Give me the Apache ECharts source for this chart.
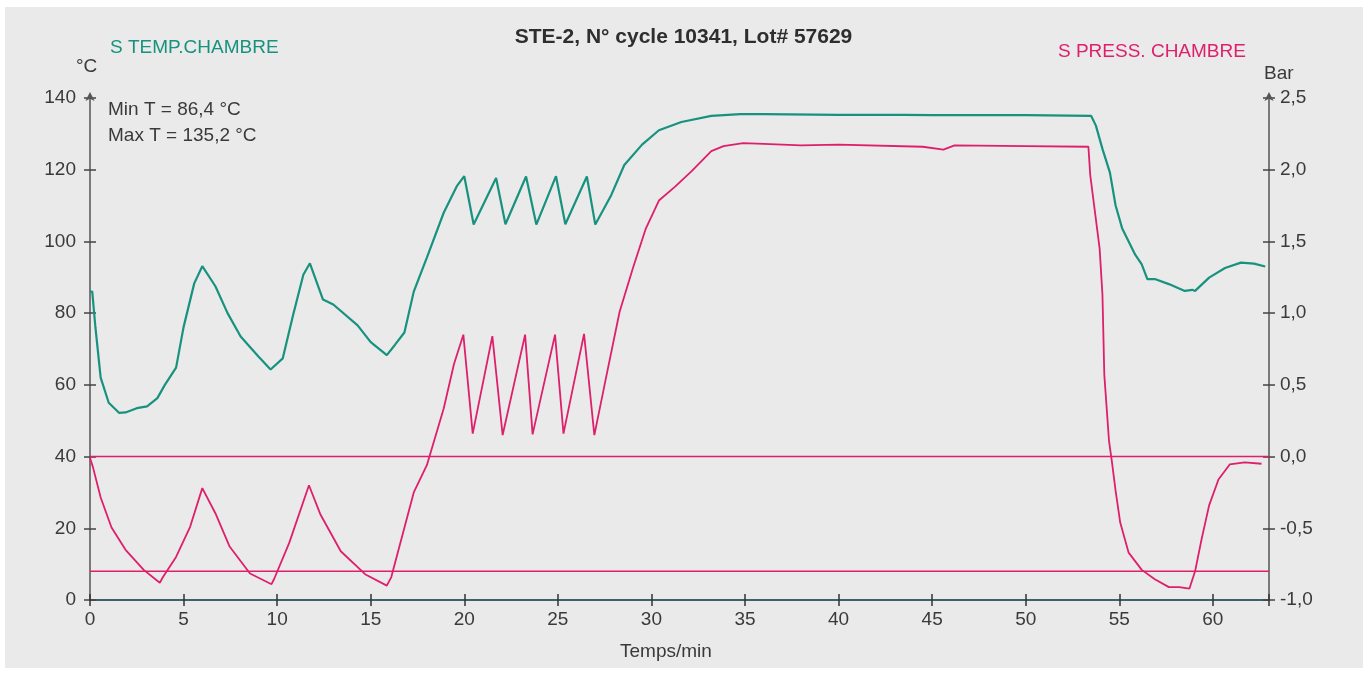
<!DOCTYPE html>
<html>
<head>
<meta charset="utf-8">
<script src="https://cdn.jsdelivr.net/npm/echarts@6/dist/echarts.min.js"></script>
<style>
html,body{margin:0;padding:0;background:#fff;}
#c{width:1367px;height:675px;}
</style>
</head>
<body>
<div id="c"></div>
<script>
// ---- data ----
var titleText = 'STE-2, N° cycle 10341, Lot# 57629';
var tempName = 'S TEMP.CHAMBRE';
var pressName = 'S PRESS. CHAMBRE';
var infoLines = ['Min T = 86,4 °C', 'Max T = 135,2 °C'];

var tempMinutes = [0,0.12,0.29,0.57,1.0,1.55,1.9,2.5,3.05,3.6,4.0,4.6,5.0,5.57,6.0,6.7,7.35,8.05,9.0,9.65,10.3,10.85,11.4,11.75,12.45,13.0,14.3,15.0,15.86,16.3,16.8,17.3,18.0,18.9,19.6,20.0,20.5,21.7,22.2,23.3,23.85,24.9,25.4,26.55,27.0,27.85,28.55,29.5,30.4,31.6,33.2,34.75,36,40,43.5,45,50,53.5,53.75,54.1,54.5,54.8,55.15,55.85,56.2,56.5,56.9,57.65,58.5,58.9,59.05,59.8,60.65,61.5,62.2,62.8];
var tempValues  = [86,86,76,62,55,52.2,52.3,53.5,54,56.3,60,64.8,76.1,88.3,93.1,87.5,80,73.5,67.9,64.3,67.4,79.4,90.7,93.9,83.8,82.4,76.6,71.9,68.3,71.2,74.6,86,95.5,108,115.4,118.2,104.7,117.7,104.8,118.1,104.7,118.2,104.8,118.1,104.7,112.9,121.3,127,131,133.3,135,135.5,135.5,135.3,135.3,135.2,135.2,135,132.3,125.8,119.2,110.1,103.7,96.3,93.6,89.5,89.5,88.1,86.2,86.5,86.2,89.9,92.6,94.1,93.8,93.0];

var pressMinutes = [0,0.15,0.57,1.15,1.9,2.87,3.73,3.9,4.6,5.35,6.0,6.7,7.45,8.55,9.7,9.85,10.65,11.7,12.3,13.4,14.7,15.86,16.1,17.3,18.0,18.9,19.45,19.95,20.45,21.5,22.05,23.25,23.65,24.85,25.3,26.4,26.95,27.55,28.3,29.0,29.7,30.4,31.25,32.15,33.2,33.85,34.9,36.0,38,40,44.5,45.6,46.2,50,53.35,53.45,53.95,54.1,54.2,54.45,54.6,54.8,55.05,55.5,56.2,56.9,57.65,58.2,58.75,59.05,59.4,59.8,60.3,60.9,61.7,62.6];
var pressValues  = [-0.01,-0.07,-0.285,-0.495,-0.65,-0.79,-0.88,-0.84,-0.70,-0.49,-0.22,-0.395,-0.625,-0.815,-0.89,-0.85,-0.6,-0.2,-0.40,-0.66,-0.82,-0.90,-0.84,-0.25,-0.06,0.335,0.645,0.85,0.16,0.84,0.15,0.85,0.155,0.85,0.16,0.855,0.15,0.535,1.01,1.31,1.59,1.785,1.88,1.99,2.13,2.165,2.185,2.18,2.17,2.175,2.16,2.14,2.17,2.165,2.16,1.96,1.45,1.13,0.57,0.11,-0.03,-0.235,-0.46,-0.67,-0.79,-0.855,-0.91,-0.91,-0.92,-0.80,-0.575,-0.34,-0.16,-0.055,-0.04,-0.05];

var pressLimits = [0.0, -0.8];
var xRange = [0, 63];
var tempRange = [0, 140];
var pressRange = [-1.0, 2.5];

// ---- build ----
var TEAL = '#17927f', MAGENTA = '#de1f6b', INK = '#3a3a3a';
var FONT = "'Liberation Sans', Arial, sans-serif";
function pairs(xs, ys){ return xs.map(function(x,i){ return [x, ys[i]]; }); }

var limitSeries = pressLimits.map(function(v){
  return {type:'line', yAxisIndex:1, data:[[xRange[0], v],[xRange[1], v]], symbol:'none',
          lineStyle:{color:MAGENTA, width:1.6}, silent:true, animation:false, z:3};
});

var chart = echarts.init(document.getElementById('c'));
chart.setOption({
  backgroundColor:'#ffffff',
  animation:false,
  textStyle:{fontFamily:FONT},
  grid:{left:90, right:98, top:98, bottom:75},
  graphic:[
    {type:'rect', shape:{x:5,y:7,width:1358,height:661}, style:{fill:'#eaeaea'}, z:-10, silent:true},
    {type:'text', left:'center', top:27, style:{text:titleText, fill:'#2e2e2e', font:'bold 21px '+FONT}},
    {type:'text', left:110, top:38, style:{text:tempName, fill:TEAL, font:'19px '+FONT}},
    {type:'text', left:1058, top:42, style:{text:pressName, fill:MAGENTA, font:'19px '+FONT}},
    {type:'text', left:76, top:57, style:{text:'°C', fill:INK, font:'19px '+FONT}},
    {type:'text', left:1264, top:64, style:{text:'Bar', fill:INK, font:'19px '+FONT}},
    {type:'text', left:108, top:100, style:{text:infoLines[0], fill:INK, font:'19px '+FONT}},
    {type:'text', left:108, top:126, style:{text:infoLines[1], fill:INK, font:'19px '+FONT}},
    {type:'text', left:620, top:642, style:{text:'Temps/min', fill:INK, font:'19px '+FONT}}
  ],
  xAxis:[
    {type:'value', min:xRange[0], max:xRange[1], interval:5,
     axisLine:{show:true, onZero:false, lineStyle:{color:'#3d6168', width:2}},
     axisTick:{show:true, length:6, lineStyle:{color:'#333', width:1.5}},
     axisLabel:{color:INK, fontSize:19, margin:10, fontFamily:FONT,
       formatter:function(v){ return (v % 5 === 0) ? String(v) : ''; }},
     splitLine:{show:false}},
    {type:'value', min:xRange[0], max:xRange[1], interval:5, position:'bottom',
     axisLine:{show:false, onZero:false}, axisLabel:{show:false}, splitLine:{show:false},
     axisTick:{show:true, inside:true, length:6, lineStyle:{color:'#333', width:1.5}}}
  ],
  yAxis:[
    {type:'value', min:tempRange[0], max:tempRange[1], interval:20, position:'left',
     axisLine:{show:true, onZero:false, lineStyle:{color:'#555', width:1.5}, symbol:['none','arrow'], symbolSize:[7,9], symbolOffset:[0,6]},
     axisTick:{show:true, length:6, lineStyle:{color:'#444', width:1.5}},
     axisLabel:{color:INK, fontSize:19, margin:14, fontFamily:FONT},
     splitLine:{show:false}},
    {type:'value', min:pressRange[0], max:pressRange[1], interval:0.5, position:'right',
     axisLine:{show:true, onZero:false, lineStyle:{color:'#555', width:1.5}, symbol:['none','arrow'], symbolSize:[7,9], symbolOffset:[0,6]},
     axisTick:{show:true, length:6, lineStyle:{color:'#444', width:1.5}},
     axisLabel:{color:INK, fontSize:19, margin:11, fontFamily:FONT,
       formatter:function(v){ return v.toFixed(1).replace('.', ','); }},
     splitLine:{show:false}},
    {type:'value', min:tempRange[0], max:tempRange[1], interval:20, position:'left',
     axisLine:{show:false, onZero:false}, axisLabel:{show:false}, splitLine:{show:false},
     axisTick:{show:true, inside:true, length:6, lineStyle:{color:'#444', width:1.5}}},
    {type:'value', min:pressRange[0], max:pressRange[1], interval:0.5, position:'right',
     axisLine:{show:false, onZero:false}, axisLabel:{show:false}, splitLine:{show:false},
     axisTick:{show:true, inside:true, length:6, lineStyle:{color:'#444', width:1.5}}}
  ],
  series:[
    {name:tempName, type:'line', yAxisIndex:0, data:pairs(tempMinutes, tempValues), symbol:'none',
     lineStyle:{color:TEAL, width:2.2}, z:4},
    {name:pressName, type:'line', yAxisIndex:1, data:pairs(pressMinutes, pressValues), symbol:'none',
     lineStyle:{color:MAGENTA, width:1.8}, z:5}
  ].concat(limitSeries)
});
</script>
</body>
</html>
